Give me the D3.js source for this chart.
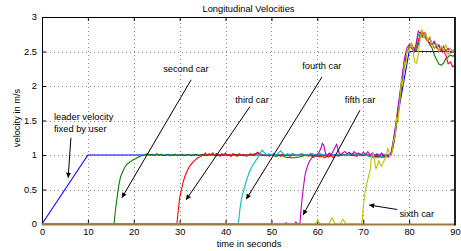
<!DOCTYPE html>
<html><head><meta charset="utf-8">
<script src="https://cdn.jsdelivr.net/npm/d3@7"></script>
<style>
html,body{margin:0;padding:0;background:#fff;}
text{font-family:Arial,"Liberation Sans",Helvetica,sans-serif;fill:#000;}
</style></head>
<body><svg id="c" width="461" height="251"></svg>
<script>
const title = "Longitudinal Velocities";
const xLabel = "time in seconds";
const yLabel = "velocity in m/s";
const xTicks = [0,10,20,30,40,50,60,70,80,90];
const yTicks = [0,0.5,1,1.5,2,2.5,3];
const yTickLabels = ["0","0.5","1","1.5","2","2.5","3"];

const seriesNames = ["leader","second","third","fourth","fifth","sixth"];
const seriesColors = ["#0000ff","#008000","#ff0000","#00bfbf","#bf00bf","#bfbf00"];

const leader = [[0,0],[10,1],[76,1],[80,2.5],[90,2.5]];

const second = [[0,0],[15.7,0],[16.0,0.2],[16.3,0.35],[16.7,0.55],[17.1,0.68],[17.6,0.76],[18.1,0.83],[18.6,0.87],[19.2,0.9],[19.9,0.93],[20.5,0.95],[21,0.97],[21.7,0.99],[22.3,1.0],[23,1.02],[23.5,1.0],[24,1.01],[24.5,0.99],[25,1.02],[25.5,1.0],[26,1.01],[26.5,0.99],[27,1.0],[27.5,1.01],[28,0.99],[28.5,1.0],[29,1.01],[29.5,0.99],[30,1.0],[30.5,1.01],[31,0.99],[31.5,1.0],[32,1.01],[32.5,0.99],[33,1.0],[33.5,1.01],[34,0.99],[34.5,1.0],[35,1.01],[35.5,0.99],[36,1.0],[37,1.01],[38,0.99],[39,1.0],[40,1.0],[41,0.99],[42,1.01],[43,1.0],[44,0.99],[45,1.0],[46,1.01],[47,1.03],[48,1.0],[49,0.99],[50,1.0],[51,0.98],[52,1.0],[53,0.97],[54,0.96],[55,0.96],[56,0.97],[57,0.99],[58,1.0],[59,0.98],[60,0.99],[61,1.0],[62,0.98],[63,1.0],[64,1.01],[65,0.99],[66,1.0],[67,1.01],[68,0.99],[69,1.0],[70,1.0],[71,0.99],[72,0.97],[73,0.98],[74,0.97],[75,0.99],[76,1.0],[76.5,1.1],[77,1.3],[77.5,1.55],[78,1.8],[78.5,2.05],[79,2.3],[79.5,2.5],[80,2.55],[80.5,2.6],[81,2.55],[81.5,2.5],[82,2.6],[82.5,2.75],[83,2.78],[83.5,2.72],[84,2.68],[84.5,2.6],[85,2.55],[85.5,2.45],[86,2.38],[86.5,2.32],[87,2.3],[87.5,2.33],[88,2.4],[88.5,2.42],[89,2.45],[89.5,2.43],[90,2.45]];

const third = [[0,0],[29.4,0],[29.7,0.2],[30.0,0.38],[30.4,0.5],[30.8,0.62],[31.2,0.7],[31.7,0.78],[32.2,0.84],[32.8,0.89],[33.4,0.93],[34,0.96],[34.6,0.98],[35.2,1.0],[35.6,1.03],[36,0.99],[36.4,1.02],[36.8,1.0],[37.2,1.03],[37.6,0.99],[38,1.02],[38.4,1.01],[38.8,0.98],[39.2,1.02],[39.6,1.0],[40,1.03],[40.4,0.99],[40.8,1.01],[41.2,0.98],[41.6,1.02],[42,1.0],[42.5,0.98],[43,1.02],[43.5,0.99],[44,1.01],[44.5,0.98],[45,1.0],[45.5,1.02],[46,0.99],[46.5,1.01],[47,1.04],[47.5,1.02],[48,1.0],[48.5,0.99],[49,1.01],[49.5,0.98],[50,1.0],[50.5,1.02],[51,0.99],[51.5,1.0],[52,0.98],[52.5,1.01],[53,0.99],[53.5,1.0],[54,0.98],[54.5,1.0],[55,1.01],[55.5,0.99],[56,1.0],[56.5,1.02],[57,0.99],[57.5,1.0],[58,0.98],[58.5,1.01],[59,0.99],[59.5,1.0],[60,0.98],[60.5,0.97],[61,0.99],[61.5,0.96],[62,0.98],[62.5,0.97],[63,0.99],[63.5,0.96],[64,1.0],[64.5,0.98],[65,1.0],[65.5,1.01],[66,0.99],[66.5,1.0],[67,1.02],[67.5,0.99],[68,1.0],[68.5,0.98],[69,1.0],[69.5,1.01],[70,0.99],[71,1.0],[72,0.98],[73,0.99],[74,0.97],[75,0.99],[76,1.0],[76.5,1.12],[77,1.35],[77.5,1.6],[78,1.85],[78.5,2.1],[79,2.35],[79.5,2.5],[80,2.58],[80.5,2.62],[81,2.5],[81.5,2.55],[82,2.65],[82.5,2.78],[83,2.75],[83.5,2.7],[84,2.65],[84.5,2.62],[85,2.6],[85.5,2.55],[86,2.58],[86.5,2.5],[87,2.55],[87.5,2.5],[88,2.45],[88.5,2.32],[89,2.35],[89.5,2.28],[90,2.3]];

const fourth = [[0,0],[42.8,0],[43.1,0.2],[43.5,0.38],[44,0.5],[44.5,0.62],[45,0.72],[45.5,0.8],[46,0.86],[46.5,0.91],[47,0.96],[47.5,1.02],[48,1.07],[48.5,1.03],[49,1.0],[49.5,1.02],[50,1.0],[50.5,1.01],[51,0.99],[51.5,1.03],[52,1.06],[52.5,1.02],[53,1.0],[53.5,1.02],[54,1.0],[54.5,1.02],[55,1.01],[55.5,0.99],[56,1.0],[56.5,1.02],[57,1.01],[57.5,1.0],[58,1.0],[58.5,1.02],[59,1.02],[59.5,1.0],[60,1.0],[60.5,1.02],[61,1.01],[61.5,1.0],[62,1.0],[62.5,1.02],[63,1.02],[63.5,1.0],[64,1.0],[64.5,1.01],[65,1.01],[65.5,1.0],[66,0.99],[66.5,1.01],[67,1.0],[67.5,1.02],[68,1.02],[68.5,1.0],[69,1.0],[69.5,1.01],[70,1.01],[70.5,1.0],[71,0.99],[71.5,0.98],[72,0.97],[72.5,0.96],[73,0.96],[73.5,0.97],[74,0.98],[74.5,0.96],[75,0.97],[75.5,0.98],[76,1.0],[76.5,1.14],[77,1.38],[77.5,1.62],[78,1.88],[78.5,2.12],[79,2.38],[79.5,2.52],[80,2.58],[80.5,2.55],[81,2.5],[81.5,2.58],[82,2.75],[82.5,2.72],[83,2.7],[83.5,2.76],[84,2.66],[84.5,2.68],[85,2.6],[85.5,2.62],[86,2.56],[86.5,2.58],[87,2.52],[87.5,2.56],[88,2.5],[88.5,2.54],[89,2.5],[89.5,2.5],[90,2.48]];

const fifth = [[0,0],[53,0],[53.2,0.02],[53.4,0],[55,0],[55.3,0.03],[55.6,0.01],[56.2,0],[56.5,0.25],[56.9,0.5],[57.3,0.7],[57.7,0.81],[58.2,0.9],[58.8,0.96],[59.3,0.97],[59.8,1.0],[60.3,1.03],[60.8,1.1],[61.1,1.17],[61.4,1.14],[61.8,1.02],[62.2,0.99],[62.6,1.03],[63,1.0],[63.4,1.05],[63.8,1.1],[64.2,1.16],[64.6,1.05],[65,1.0],[65.5,1.03],[66,1.05],[66.5,1.02],[67,1.04],[67.5,1.0],[68,1.05],[68.5,1.02],[69,1.03],[69.5,1.0],[70,1.04],[70.5,1.01],[71,1.05],[71.5,1.0],[72,1.03],[72.5,0.99],[73,1.02],[73.5,0.98],[74,1.03],[74.5,0.99],[75,1.0],[75.5,0.97],[76,1.02],[76.5,1.15],[77,1.4],[77.5,1.65],[78,1.9],[78.5,2.15],[79,2.4],[79.5,2.55],[80,2.6],[80.5,2.55],[81,2.5],[81.5,2.6],[82,2.8],[82.5,2.75],[83,2.72],[83.5,2.78],[84,2.65],[84.5,2.7],[85,2.6],[85.5,2.65],[86,2.55],[86.5,2.6],[87,2.5],[87.5,2.58],[88,2.5],[88.5,2.55],[89,2.48],[89.5,2.52],[90,2.5]];

const sixth = [[0,0],[59.5,0],[60.1,0.05],[60.7,0],[62.5,0],[63.2,0.09],[63.9,0],[65,0],[65.6,0.07],[66.2,0],[69.7,0],[70,0.25],[70.4,0.46],[70.9,0.62],[71.5,0.78],[71.8,0.98],[72.2,1.03],[72.5,0.9],[72.8,0.8],[73.1,0.85],[73.4,0.92],[73.7,0.86],[74,0.84],[74.4,0.9],[74.8,0.95],[75.1,1.02],[75.4,1.1],[75.8,0.98],[76.2,1.0],[76.6,1.2],[77,1.3],[77.3,1.55],[77.6,1.5],[78,1.8],[78.3,2.1],[78.6,2.0],[79,2.35],[79.3,2.3],[79.6,2.55],[80,2.5],[80.4,2.62],[80.8,2.55],[81.2,2.35],[81.6,2.33],[82,2.45],[82.4,2.7],[82.8,2.82],[83.2,2.7],[83.6,2.78],[84,2.65],[84.5,2.72],[85,2.6],[85.5,2.55],[86,2.62],[86.5,2.5],[87,2.58],[87.5,2.52],[88,2.6],[88.5,2.45],[89,2.55],[89.5,2.5],[90,2.55]];

const seriesData = [leader, second, third, fourth, fifth, sixth];

const annotTexts = [
  {lines:["leader velocity","fixed by user"], t:2.6, v:1.51},
  {lines:["second car"], t:26.4, v:2.2},
  {lines:["third car"], t:42.1, v:1.75},
  {lines:["fourth car"], t:56.7, v:2.25},
  {lines:["fifth car"], t:66.0, v:1.75},
  {lines:["sixth car"], t:77.9, v:0.10}
];
const annotArrows = [
  [[6.3,1.25],[5.7,0.67]],
  [[32.5,2.09],[17.4,0.38]],
  [[45.3,1.70],[31.4,0.35]],
  [[61.0,2.13],[44.5,0.36]],
  [[69.3,1.65],[56.9,0.13]],
  [[77.4,0.21],[71.3,0.275]]
];

const svg = d3.select("#c");
svg.append("rect").attr("width",461).attr("height",251).attr("fill","#fff");
const x = d3.scaleLinear().domain([0,90]).range([42,455]);
const y = d3.scaleLinear().domain([0,3]).range([224,17]);
const fs = 9.3;

const g = svg.append("g");
g.selectAll(".gx").data(xTicks.slice(1,-1)).enter().append("line")
  .attr("x1",d=>Math.round(x(d))+0.5).attr("x2",d=>Math.round(x(d))+0.5)
  .attr("y1",y(0)).attr("y2",y(3))
  .attr("stroke","#888").attr("stroke-width",1).attr("stroke-dasharray","1,3");
g.selectAll(".gy").data(yTicks.slice(1,-1)).enter().append("line")
  .attr("y1",d=>Math.round(y(d))+0.5).attr("y2",d=>Math.round(y(d))+0.5)
  .attr("x1",x(0)).attr("x2",x(90))
  .attr("stroke","#888").attr("stroke-width",1).attr("stroke-dasharray","1,3");

const axB = d3.axisBottom(x).tickValues(xTicks).tickSizeInner(-4).tickSizeOuter(0).tickPadding(4).tickFormat(d3.format("d"));
const axT = d3.axisTop(x).tickValues(xTicks).tickSizeInner(-4).tickSizeOuter(0).tickFormat("");
const axL = d3.axisLeft(y).tickValues(yTicks).tickSizeInner(-4).tickSizeOuter(0).tickPadding(5).tickFormat((d,i)=>yTickLabels[i]);
const axR = d3.axisRight(y).tickValues(yTicks).tickSizeInner(-4).tickSizeOuter(0).tickFormat("");
function style(sel){
  sel.selectAll("text").style("font-size",fs+"px").style("font-family","Arial, 'Liberation Sans', sans-serif").attr("fill","#000");
  sel.selectAll("line").attr("stroke","#000");
  sel.select(".domain").attr("stroke","#000");
}
svg.append("g").attr("transform",`translate(0,${y(0)})`).call(axB).call(style);
svg.append("g").attr("transform",`translate(0,${y(3)})`).call(axT).call(style);
svg.append("g").attr("transform",`translate(${x(0)},0)`).call(axL).call(style);
svg.append("g").attr("transform",`translate(${x(90)},0)`).call(axR).call(style);

const line = d3.line().x(d=>x(d[0])).y(d=>y(d[1]));
svg.append("g").selectAll("path").data(seriesData).enter().append("path")
  .attr("d",line).attr("fill","none")
  .attr("stroke",(d,i)=>seriesColors[i]).attr("stroke-width",1.1)
  .attr("stroke-linejoin","round");

svg.append("line").attr("x1",x(0)).attr("x2",x(90)).attr("y1",y(0)+0.5).attr("y2",y(0)+0.5)
  .attr("stroke","#9c7b3e").attr("stroke-width",2.2);
svg.append("line").attr("x1",x(90)).attr("x2",x(90)).attr("y1",y(3)).attr("y2",y(0)+1.5)
  .attr("stroke","#222").attr("stroke-width",2);

const defs = svg.append("defs");
defs.append("marker").attr("id","ah").attr("viewBox","0 0 10 10").attr("refX",10).attr("refY",5)
  .attr("markerWidth",7).attr("markerHeight",5).attr("markerUnits","userSpaceOnUse").attr("orient","auto")
  .append("path").attr("d","M0,0 L10,5 L0,10 z").attr("fill","#000");
svg.append("g").selectAll("line").data(annotArrows).enter().append("line")
  .attr("x1",d=>x(d[0][0])).attr("y1",d=>y(d[0][1]))
  .attr("x2",d=>x(d[1][0])).attr("y2",d=>y(d[1][1]))
  .attr("stroke","#000").attr("stroke-width",1).attr("marker-end","url(#ah)");

annotTexts.forEach(a=>{
  const t = svg.append("text").attr("x",x(a.t)).attr("y",y(a.v)).style("font-size",fs+"px");
  a.lines.forEach((l,i)=>t.append("tspan").attr("x",x(a.t)).attr("dy",i===0?0:12).text(l));
});

svg.append("text").attr("x",248.5).attr("y",12).attr("text-anchor","middle").style("font-size",fs+"px").text(title);
svg.append("text").attr("x",249).attr("y",247).attr("text-anchor","middle").style("font-size",fs+"px").text(xLabel);
svg.append("text").attr("transform","translate(20,118) rotate(-90)").attr("text-anchor","middle").style("font-size",fs+"px").text(yLabel);
</script></body></html>
